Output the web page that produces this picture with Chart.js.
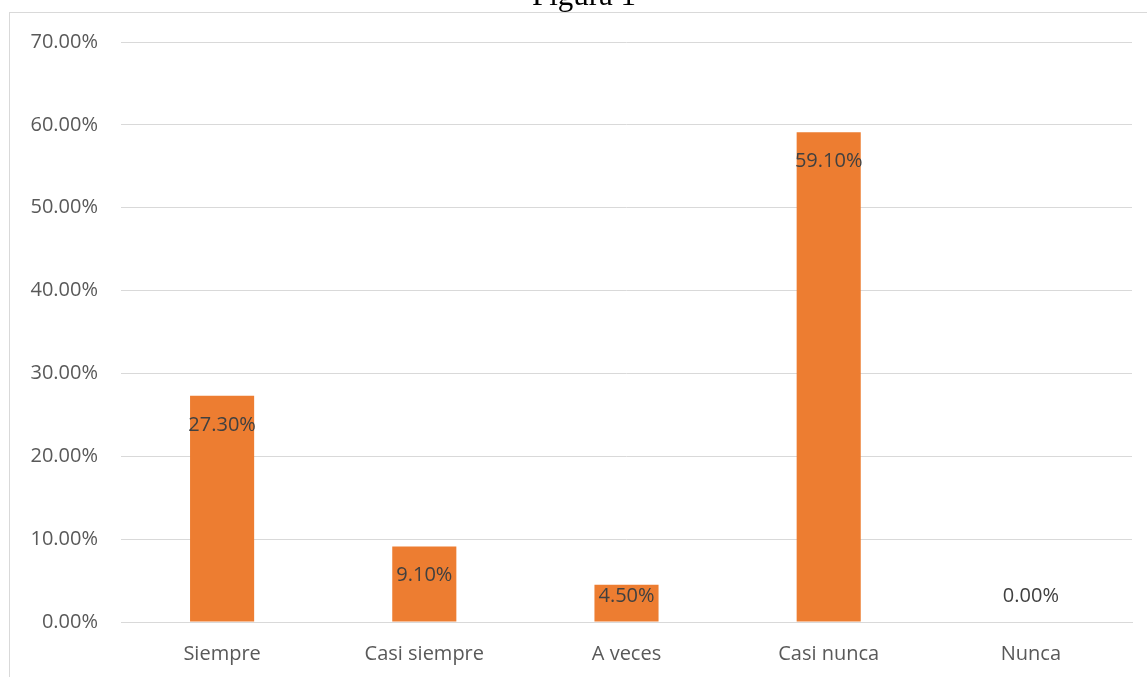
<!DOCTYPE html>
<html><head><meta charset="utf-8">
<script src="https://cdn.jsdelivr.net/npm/chart.js@4/dist/chart.umd.min.js"></script>
<style>html,body{margin:0;padding:0;background:#fff;overflow:hidden}</style>
</head><body>
<canvas id="c" width="1147" height="677"></canvas>
<script>
const categories = ["Siempre", "Casi siempre", "A veces", "Casi nunca", "Nunca"];
const values = [27.3, 9.1, 4.5, 59.1, 0.0];
const yMax = 70;
const yStep = 10;
const title = "Figura 1";

const PAD_L = 20, PAD_B = 10;
const FONT = '"Open Sans", "Liberation Sans", sans-serif';
const framePlugin = {
  id: 'frame',
  beforeDraw(chart) {
    const ctx = chart.ctx;
    ctx.save();
    ctx.fillStyle = '#fff';
    ctx.fillRect(0, 0, chart.width, chart.height);
    ctx.strokeStyle = '#d9d9d9';
    ctx.lineWidth = 1;
    ctx.strokeRect(9.5, 12.5, 1200, 800);
    ctx.restore();
  },
  afterDraw(chart) {
    const ctx = chart.ctx;
    ctx.save();
    ctx.fillStyle = '#000';
    ctx.font = '31px "Liberation Serif", "Times New Roman", serif';
    ctx.textAlign = 'center';
    ctx.textBaseline = 'alphabetic';
    ctx.fillText(title, 584, 5);
    const meta = chart.getDatasetMeta(0);
    const base = chart.scales.y.getPixelForValue(0);
    ctx.fillStyle = '#404040';
    ctx.font = '20px ' + FONT;
    ctx.textBaseline = 'middle';
    meta.data.forEach((bar, i) => {
      const v = values[i];
      const y = Math.min(bar.y + 29, base - 26);
      ctx.fillText(v.toFixed(2) + '%', bar.x, y);
    });
    ctx.restore();
  }
};

new Chart(document.getElementById('c'), {
  type: 'bar',
  data: {
    labels: categories,
    datasets: [{
      data: values,
      backgroundColor: '#ed7d31',
      barPercentage: 0.317,
      categoryPercentage: 1.0
    }]
  },
  options: {
    responsive: false,
    animation: false,
    devicePixelRatio: 1,
    layout: { padding: { left: PAD_L, right: 15, top: 42, bottom: PAD_B } },
    plugins: { legend: { display: false }, tooltip: { enabled: false } },
    scales: {
      x: {
        grid: { display: false, drawTicks: false },
        border: { display: true, color: '#d9d9d9', width: 1 },
        ticks: { color: '#595959', font: { family: FONT, size: 20 }, padding: 20, maxRotation: 0 },
        afterFit(s) { s.height = 677 - 622 - PAD_B; }
      },
      y: {
        min: 0, max: yMax,
        grid: { color: '#d9d9d9', drawTicks: false },
        border: { display: false },
        ticks: {
          stepSize: yStep, color: '#595959', padding: 23,
          font: { family: FONT, size: 20 },
          callback: v => v.toFixed(2) + '%'
        },
        afterFit(s) { s.width = 121 - PAD_L; }
      }
    }
  },
  plugins: [framePlugin]
});
</script>
</body></html>
